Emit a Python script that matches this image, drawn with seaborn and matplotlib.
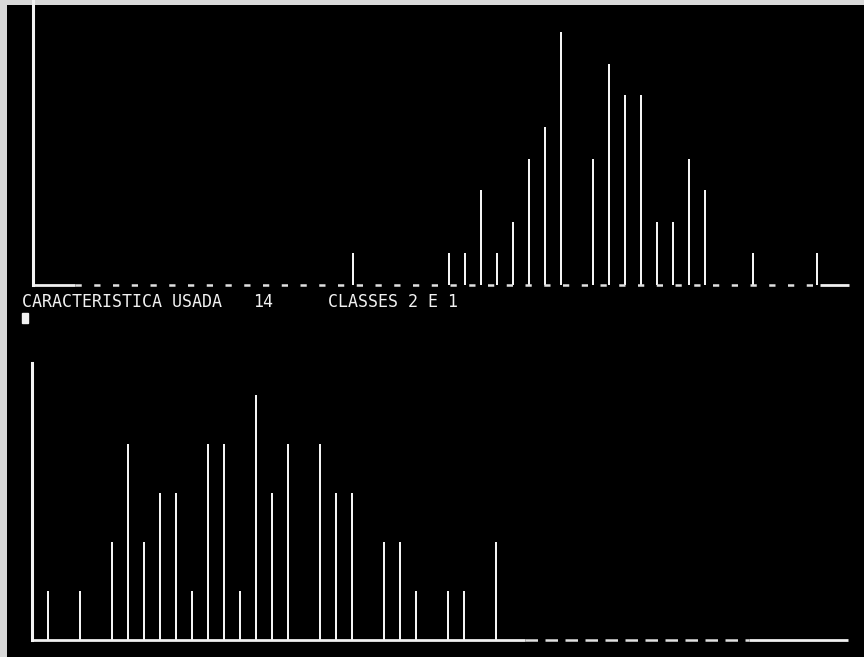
import matplotlib
matplotlib.use("Agg")
import matplotlib.pyplot as plt
import seaborn as sns
from matplotlib.patches import Rectangle

# histogram bins (class index) and counts
top_bins = [20, 26, 27, 28, 29, 30, 31, 32, 33, 35, 36, 37, 38, 39, 40, 41, 42, 45, 49]
top_counts = [1, 1, 1, 3, 1, 2, 4, 5, 8, 4, 7, 6, 6, 2, 2, 4, 3, 1, 1]

bottom_bins = [1, 3, 5, 6, 7, 8, 9, 10, 11, 12, 13, 14, 15, 16, 18, 19, 20, 22, 23, 24, 26, 27, 29]
bottom_counts = [1, 1, 2, 4, 2, 3, 3, 1, 4, 4, 1, 5, 3, 4, 4, 3, 3, 2, 2, 1, 1, 1, 2]

caption_left = "CARACTERISTICA USADA"
caption_feature = "14"
caption_right = "CLASSES 2 E 1"

W, H = 864, 657
fig = plt.figure(figsize=(W / 100, H / 100), dpi=100, facecolor="#d9d9d9")

# black screen area
bg = fig.add_axes([7 / W, 0, 1 - 7 / W, 1 - 5 / H])
bg.set_facecolor("black")
bg.set_xticks([]); bg.set_yticks([])
for s in bg.spines.values():
    s.set_visible(False)


def px_axes(left, right, top, base):
    return fig.add_axes([left / W, 1 - base / H, (right - left) / W, (base - top) / H])


def spikes(ax, bins, counts, ymax, solid_end, dash_end, dash):
    sns.histplot(x=bins, weights=counts, discrete=True, shrink=0.16,
                 color="#f4f4f4", alpha=1, edgecolor=None, linewidth=0, ax=ax)
    ax.set_xlim(0, 51)
    ax.set_ylim(0, ymax)
    ax.patch.set_alpha(0)
    ax.set_xticks([]); ax.set_yticks([])
    ax.set_xlabel(""); ax.set_ylabel("")
    for name, s in ax.spines.items():
        s.set_visible(name == "left")
    ax.spines["left"].set_color("#f4f4f4")
    ax.spines["left"].set_linewidth(2.2)
    # baseline as the terminal drew it: solid, then broken, then solid
    ax.hlines(0, 0, solid_end, color="#f0f0f0", lw=2, clip_on=False)
    ax.hlines(0, solid_end, dash_end, color="#e0e0e0", lw=1.8,
              linestyles=(0, dash), clip_on=False)
    ax.hlines(0, dash_end, 51, color="#f0f0f0", lw=2, clip_on=False)


ax_top = px_axes(33, 849, 0, 285)
spikes(ax_top, top_bins, top_counts, 285 / 31.6, 2.6, 49.2, (2.5, 5))

ax_bot = px_axes(32, 848, 363, 640)
spikes(ax_bot, bottom_bins, bottom_counts, 277 / 49, 30.8, 44.8, (5, 3))

mono = dict(family="DejaVu Sans Mono", color="#f2f2f2", fontsize=12, va="center", ha="left")
fig.text(22 / W, 1 - 302 / H, caption_left, **mono)
fig.text(253 / W, 1 - 302 / H, caption_feature, **mono)
fig.text(328 / W, 1 - 302 / H, caption_right, **mono)

# text cursor
fig.patches.append(Rectangle((22 / W, 1 - 323 / H), 6 / W, 10 / H,
                             transform=fig.transFigure, color="#f2f2f2"))

fig.savefig("out.png", dpi=100, facecolor=fig.get_facecolor())
